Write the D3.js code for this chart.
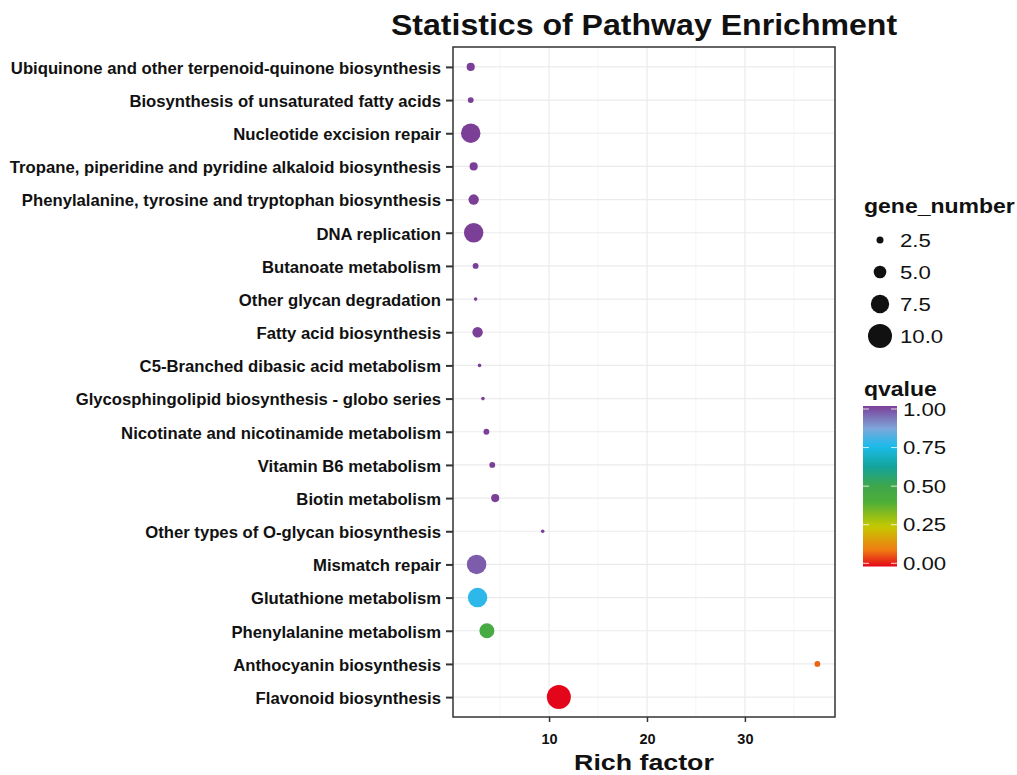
<!DOCTYPE html>
<html>
<head>
<meta charset="utf-8">
<script src="https://cdn.jsdelivr.net/npm/d3@7"></script>
<style>
  body { margin: 0; background: #fff; }
  text { font-family: "Liberation Sans", Arial, Helvetica, sans-serif; }
</style>
</head>
<body>
<div id="chart"></div>
<script>
// data, listed top row to bottom row
var pathways = [
  "Ubiquinone and other terpenoid-quinone biosynthesis",
  "Biosynthesis of unsaturated fatty acids",
  "Nucleotide excision repair",
  "Tropane, piperidine and pyridine alkaloid biosynthesis",
  "Phenylalanine, tyrosine and tryptophan biosynthesis",
  "DNA replication",
  "Butanoate metabolism",
  "Other glycan degradation",
  "Fatty acid biosynthesis",
  "C5-Branched dibasic acid metabolism",
  "Glycosphingolipid biosynthesis - globo series",
  "Nicotinate and nicotinamide metabolism",
  "Vitamin B6 metabolism",
  "Biotin metabolism",
  "Other types of O-glycan biosynthesis",
  "Mismatch repair",
  "Glutathione metabolism",
  "Phenylalanine metabolism",
  "Anthocyanin biosynthesis",
  "Flavonoid biosynthesis"
];
var richFactor = [2.0, 2.0, 2.0, 2.3, 2.3, 2.3, 2.5, 2.5, 2.7, 2.9, 3.25, 3.6, 4.2, 4.5, 9.35, 2.6, 2.7, 3.65, 37.4, 11.0];
var geneNumber = [3, 2, 8, 3, 4, 8, 2, 1, 4, 1, 1, 2, 2, 3, 1, 8, 8, 6, 2, 10];
var qvalue = [1, 1, 1, 1, 1, 1, 1, 1, 1, 1, 1, 1, 1, 1, 1, 0.96, 0.77, 0.45, 0.08, 0.0];

var sizeBreaks = [2.5, 5.0, 7.5, 10.0];
var qBreaks = [0, 0.25, 0.5, 0.75, 1];
var xTicks = [10, 20, 30];

var width = 1017, height = 775;
var pLeft = 453, pRight = 835, pTop = 47, pBottom = 717;

var svg = d3.select("#chart").append("svg")
    .attr("width", width)
    .attr("height", height);

var x = d3.scaleLinear().domain([0.19, 39.2]).range([pLeft, pRight]);
var y = d3.scalePoint().domain(pathways).range([pTop, pBottom]).padding(0.6);
var r = d3.scaleLinear().domain([1, 10]).range([1.8, 12]);

// qvalue gradient: red -> orange -> yellow -> green -> teal -> cyan -> light blue -> purple
var colorStops = [0, 0.1, 0.25, 0.4, 0.5, 0.62, 0.75, 0.86, 1];
var colorVals = ["#e3061a", "#f07a12", "#c5ca00", "#4eae38", "#3fa64b", "#13a39a", "#1bbcec", "#7ea6da", "#7b3f98"];
var color = d3.scaleLinear().domain(colorStops).range(colorVals).interpolate(d3.interpolateRgb);

// helper: text slightly stretched sideways like the original export
function wideText(sel, tx, ty, sx, size, weight, anchor, str) {
  return sel.append("text")
      .attr("transform", "translate(" + tx + "," + ty + ") scale(" + sx + ",1)")
      .attr("text-anchor", anchor)
      .style("font-size", size + "px").style("font-weight", weight)
      .attr("fill", "#111")
      .text(str);
}

// grid
var g = svg.append("g");
g.selectAll(".minor").data([5, 15, 25, 35]).enter().append("line")
    .attr("x1", d => x(d)).attr("x2", d => x(d))
    .attr("y1", pTop).attr("y2", pBottom)
    .attr("stroke", "#f2f2f2").attr("stroke-width", 0.8);
g.selectAll(".majx").data(xTicks).enter().append("line")
    .attr("x1", d => x(d)).attr("x2", d => x(d))
    .attr("y1", pTop).attr("y2", pBottom)
    .attr("stroke", "#ebebeb").attr("stroke-width", 1.2);
g.selectAll(".majy").data(pathways).enter().append("line")
    .attr("x1", pLeft).attr("x2", pRight)
    .attr("y1", d => y(d)).attr("y2", d => y(d))
    .attr("stroke", "#ebebeb").attr("stroke-width", 1.2);

// points
var pts = pathways.map(function(p, i) {
  return { name: p, rf: richFactor[i], n: geneNumber[i], q: qvalue[i] };
});
svg.selectAll("circle.pt").data(pts).enter().append("circle")
    .attr("class", "pt")
    .attr("cx", d => x(d.rf))
    .attr("cy", d => y(d.name))
    .attr("r", d => r(d.n))
    .attr("fill", d => color(d.q));

// panel border
svg.append("rect")
    .attr("x", pLeft).attr("y", pTop)
    .attr("width", pRight - pLeft).attr("height", pBottom - pTop)
    .attr("fill", "none").attr("stroke", "#333").attr("stroke-width", 1.5);

// axes
var yAxis = svg.append("g").attr("transform", "translate(" + pLeft + ",0)")
    .call(d3.axisLeft(y).tickSize(7).tickPadding(5));
yAxis.select(".domain").remove();
yAxis.selectAll("line").attr("stroke", "#333").attr("stroke-width", 2);
yAxis.selectAll("text")
    .attr("fill", "#111").attr("dy", "0.38em")
    .style("font-size", "16.7px").style("font-weight", "bold");

var xAxis = svg.append("g").attr("transform", "translate(0," + pBottom + ")")
    .call(d3.axisBottom(x).tickValues(xTicks).tickSize(5).tickPadding(12));
xAxis.select(".domain").remove();
xAxis.selectAll("line").attr("stroke", "#333").attr("stroke-width", 1.5);
xAxis.selectAll("text")
    .attr("fill", "#111")
    .style("font-size", "14.5px").style("font-weight", "bold");

// titles
wideText(svg, (pLeft + pRight) / 2, 35, 1.07, 30, "bold", "middle", "Statistics of Pathway Enrichment");
wideText(svg, (pLeft + pRight) / 2, 770, 1.19, 22.5, "bold", "middle", "Rich factor");

// size legend
var lg = svg.append("g");
wideText(lg, 864, 213, 1.18, 19.5, "bold", "start", "gene_number");
var sy = d3.scalePoint().domain(sizeBreaks).range([240, 336]);
lg.selectAll("circle").data(sizeBreaks).enter().append("circle")
    .attr("cx", 880).attr("cy", d => sy(d)).attr("r", d => r(d))
    .attr("fill", "#111");
sizeBreaks.forEach(function(d) {
  wideText(lg, 900, sy(d) + 6.5, 1.2, 18.5, "normal", "start", d.toFixed(1));
});

// colour bar
var defs = svg.append("defs");
var grad = defs.append("linearGradient").attr("id", "qgrad")
    .attr("x1", 0).attr("x2", 0).attr("y1", 1).attr("y2", 0);
grad.selectAll("stop").data(d3.range(0, 1.001, 0.02)).enter().append("stop")
    .attr("offset", d => (d * 100) + "%")
    .attr("stop-color", d => color(d));

var cbTop = 406, cbBot = 566.5, cbX = 863, cbW = 34;
var cy = d3.scaleLinear().domain([0, 1]).range([563.3, 409]);
wideText(svg, 864, 396, 1.18, 19.5, "bold", "start", "qvalue");
svg.append("rect").attr("x", cbX).attr("y", cbTop)
    .attr("width", cbW).attr("height", cbBot - cbTop)
    .attr("fill", "url(#qgrad)");
svg.selectAll("g.cbt").data(qBreaks).enter().append("g").attr("class", "cbt").each(function(d) {
  d3.select(this).append("line")
      .attr("x1", cbX).attr("x2", cbX + 6).attr("y1", cy(d)).attr("y2", cy(d))
      .attr("stroke", "#fff").attr("stroke-opacity", 0.8);
  d3.select(this).append("line")
      .attr("x1", cbX + cbW - 6).attr("x2", cbX + cbW).attr("y1", cy(d)).attr("y2", cy(d))
      .attr("stroke", "#fff").attr("stroke-opacity", 0.8);
});
qBreaks.forEach(function(d) {
  wideText(svg, 903, cy(d) + 6.5, 1.2, 18.5, "normal", "start", d.toFixed(2));
});
</script>
</body>
</html>
